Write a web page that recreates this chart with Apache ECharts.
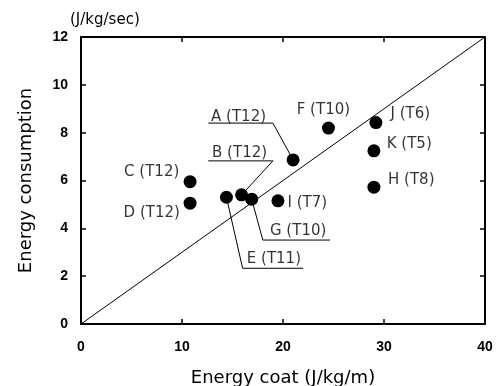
<!DOCTYPE html>
<html>
<head>
<meta charset="utf-8">
<script src="https://cdn.jsdelivr.net/npm/echarts@6/dist/echarts.min.js"></script>
<style>
  html, body { margin: 0; padding: 0; background: #fff; }
  #chart { width: 496px; height: 386px; }
</style>
</head>
<body>
<div id="chart"></div>
<script>
// points
const pointNames = ['A', 'B', 'C', 'D', 'E', 'F', 'G', 'H', 'I', 'J', 'K'];
const testCodes = ['T12', 'T12', 'T12', 'T12', 'T11', 'T10', 'T10', 'T8', 'T7', 'T6', 'T5'];
const energyCost = [21.0, 15.9, 10.8, 10.8, 14.4, 24.5, 16.9, 29.0, 19.5, 29.2, 29.0];
const energyConsumption = [6.86, 5.4, 5.95, 5.05, 5.3, 8.19, 5.22, 5.72, 5.15, 8.42, 7.24];

// where each label sits (data units, centre of the text)
const labelX = [15.6, 15.7, 7.0, 7.0, 19.1, 24.0, 21.5, 32.7, 22.4, 32.6, 32.5];
const labelY = [8.66, 7.13, 6.34, 4.62, 2.70, 8.95, 3.87, 6.0, 5.04, 8.77, 7.51];

// leader lines: point -> elbow -> end of underline
const leaderNames = ['A', 'B', 'E', 'G'];
const elbowX = [19.0, 19.0, 16.0, 18.0];
const elbowY = [8.40, 6.82, 2.33, 3.51];
const underlineEndX = [12.6, 12.6, 22.0, 24.65];

// 1:1 reference line
const refLineX = [0, 40];
const refLineY = [0, 12];

const xTicks = [0, 10, 20, 30, 40];
const yTicks = [0, 2, 4, 6, 8, 10, 12];

const tickFont = '"Liberation Sans", Arial, sans-serif';
const textFont = '"DejaVu Sans", sans-serif';
const myChart = echarts.init(document.getElementById('chart'));

const leaderSeries = leaderNames.map((n, i) => {
    const k = pointNames.indexOf(n);
    return {
        type: 'line',
        silent: true,
        symbol: 'none',
        lineStyle: { color: '#000', width: 1 },
        data: [
            [energyCost[k], energyConsumption[k]],
            [elbowX[i], elbowY[i]],
            [underlineEndX[i], elbowY[i]]
        ],
        z: 3
    };
});

const axisCommon = {
    type: 'value',
    axisLine: { show: true, onZero: false, lineStyle: { color: '#000', width: 2 } },
    axisTick: { show: true, inside: true, length: 5, lineStyle: { color: '#000', width: 1.5 } },
    splitLine: { show: false }
};

let option = {
    backgroundColor: '#fff',
    animation: false,
    grid: { left: 81, right: 11, top: 37, bottom: 62, outerBoundsMode: 'none' },
    graphic: [{
        type: 'text',
        left: 70,
        top: 13,
        style: { text: '(J/kg/sec)', font: '15px ' + textFont, fill: '#000' }
    }],
    xAxis: [
        Object.assign({}, axisCommon, {
            min: xTicks[0], max: xTicks[xTicks.length - 1], interval: 10,
            position: 'bottom',
            name: 'Energy coat (J/kg/m)',
            nameLocation: 'middle',
            nameGap: 45,
            nameTextStyle: { color: '#000', fontSize: 18, fontFamily: textFont },
            axisLabel: { color: '#000', fontSize: 14, fontWeight: 'bold', fontFamily: tickFont, margin: 16 }
        }),
        Object.assign({}, axisCommon, {
            min: 0, max: 40, interval: 10, position: 'top',
            axisLabel: { show: false }
        })
    ],
    yAxis: [
        Object.assign({}, axisCommon, {
            min: yTicks[0], max: yTicks[yTicks.length - 1], interval: 2,
            position: 'left',
            name: 'Energy consumption',
            nameLocation: 'middle',
            nameGap: 46,
            nameTextStyle: { color: '#000', fontSize: 18, fontFamily: textFont },
            axisLabel: { color: '#000', fontSize: 14, fontWeight: 'bold', fontFamily: tickFont, margin: 13 }
        }),
        Object.assign({}, axisCommon, {
            min: 0, max: 12, interval: 2, position: 'right',
            axisLabel: { show: false }
        })
    ],
    series: [
        {
            type: 'line',
            silent: true,
            symbol: 'none',
            lineStyle: { color: '#000', width: 1 },
            data: refLineX.map((x, i) => [x, refLineY[i]]),
            z: 2
        },
        ...leaderSeries,
        {
            type: 'scatter',
            symbol: 'circle',
            symbolSize: 13,
            itemStyle: { color: '#000', opacity: 1 },
            data: energyCost.map((x, i) => [x, energyConsumption[i]]),
            z: 4
        },
        {
            // label anchors
            type: 'scatter',
            silent: true,
            symbol: 'circle',
            symbolSize: 1,
            itemStyle: { color: 'transparent' },
            label: {
                show: true,
                position: 'inside',
                color: '#000',
                fontSize: 15,
                fontFamily: textFont,
                formatter: (p) => pointNames[p.dataIndex] + ' (' + testCodes[p.dataIndex] + ')'
            },
            data: labelX.map((x, i) => [x, labelY[i]]),
            z: 5
        }
    ]
};

myChart.setOption(option);
</script>
</body>
</html>
